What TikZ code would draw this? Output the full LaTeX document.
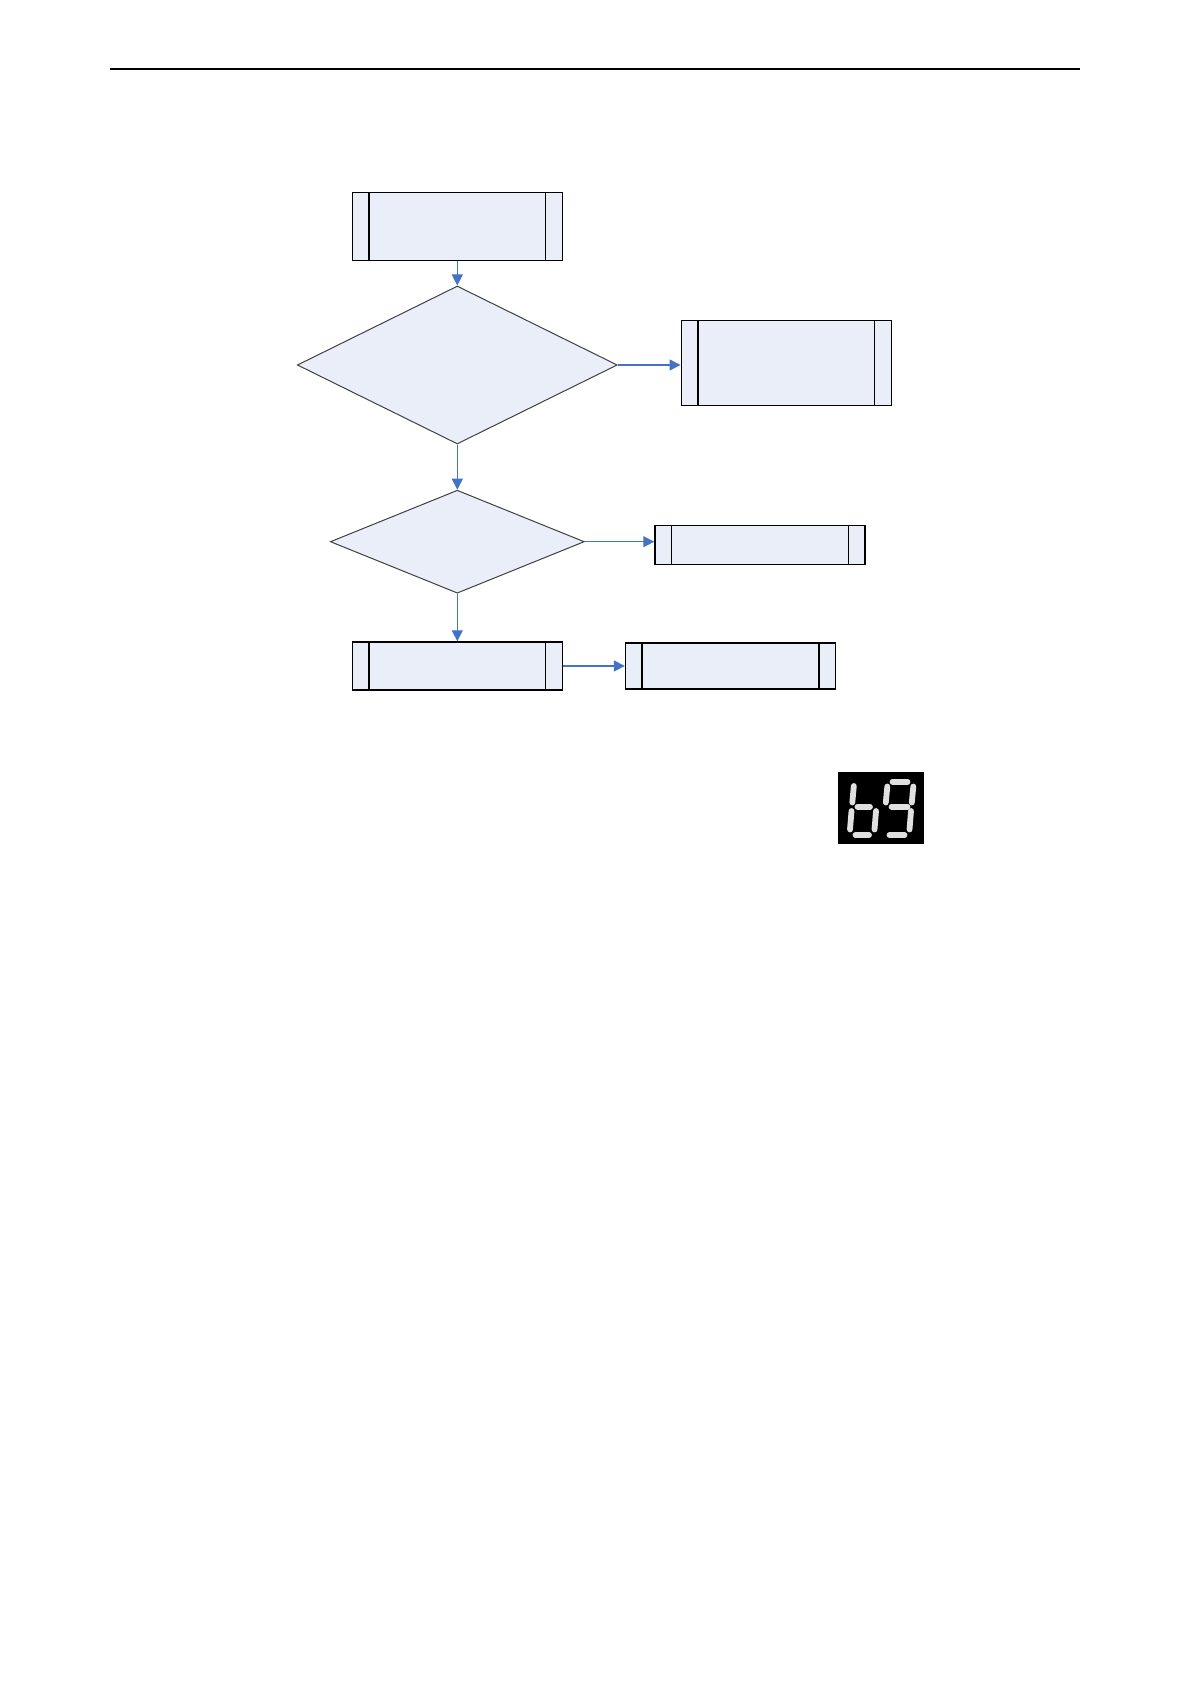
\documentclass[tikz,border=0pt]{standalone}
\usetikzlibrary{shapes.geometric,arrows.meta,calc}
\definecolor{procfill}{RGB}{233,238,248}
\definecolor{flowblue}{RGB}{68,114,196}

\begin{document}
\begin{tikzpicture}[x=0.5pt,y=-0.5pt]
  \tikzset{process/.style={
      draw, line width=0.75pt, fill=procfill, inner sep=0pt,
      minimum width=105pt, minimum height=#1,
      path picture={
        \draw[line width=0.75pt] ([xshift=8.3pt]path picture bounding box.north west) -- ([xshift=8.3pt]path picture bounding box.south west);
        \draw[line width=0.75pt] ([xshift=-8.3pt]path picture bounding box.north east) -- ([xshift=-8.3pt]path picture bounding box.south east);
      }
    },
    decision/.style={diamond, draw=black!75, line width=0.5pt, fill=procfill, inner sep=0pt},
    flow/.style={draw=flowblue, line width=0.6pt, -{Triangle[length=5.5pt,width=5.5pt]}},
    segment/.style={line width=2.9pt, line cap=round, white!88!black}
  }
  \useasboundingbox (0,0) rectangle (1191,1684);

  % header rule
  \draw[line width=1pt] (110,69) -- (1080,69);

  \node[process=34pt] (start) at (457.3,226.4) {};
  \node[decision, minimum width=160pt, minimum height=79pt] (check1) at (457.3,365) {};
  \node[process=42.5pt] (act1) at (786.3,362.8) {};
  \node[decision, minimum width=127pt, minimum height=51.5pt] (check2) at (457.3,541.7) {};
  \node[process=19.5pt] (act2) at (760,545) {};
  \node[process=24pt] (proc3) at (457.3,666) {};
  \node[process=23pt] (act3) at (730.6,666) {};

  \draw[flow] (start) -- (check1);
  \draw[flow] (check1.east) -- (check1.east -| act1.west);
  \draw[flow] (check1) -- (check2);
  \draw[flow] (check2.east) -- (check2.east -| act2.west);
  \draw[flow] (check2) -- (proc3);
  \draw[flow] (proc3) -- (act3);

  % seven-segment display "b9"
  \node[fill=black, inner sep=0pt, minimum width=42.85pt, minimum height=36pt] (disp) at (881.2,808.3) {};
  \draw[segment] (853.8,786) -- (852.3,802.5);
  \draw[segment] (857.5,806.7) -- (870,806.7);
  \draw[segment] (851.5,811) -- (850,829.5);
  \draw[segment] (876,811) -- (874.5,829.5);
  \draw[segment] (855.5,835) -- (869,835);
  \draw[segment] (892.5,781.7) -- (907.5,781.7);
  \draw[segment] (887.3,786.5) -- (885.8,802.5);
  \draw[segment] (913.3,786.5) -- (911.8,802.5);
  \draw[segment] (891.5,806.7) -- (907.5,806.7);
  \draw[segment] (911,811) -- (909.5,829.5);
  \draw[segment] (889.5,835) -- (904.5,835);
\end{tikzpicture}
\end{document}
